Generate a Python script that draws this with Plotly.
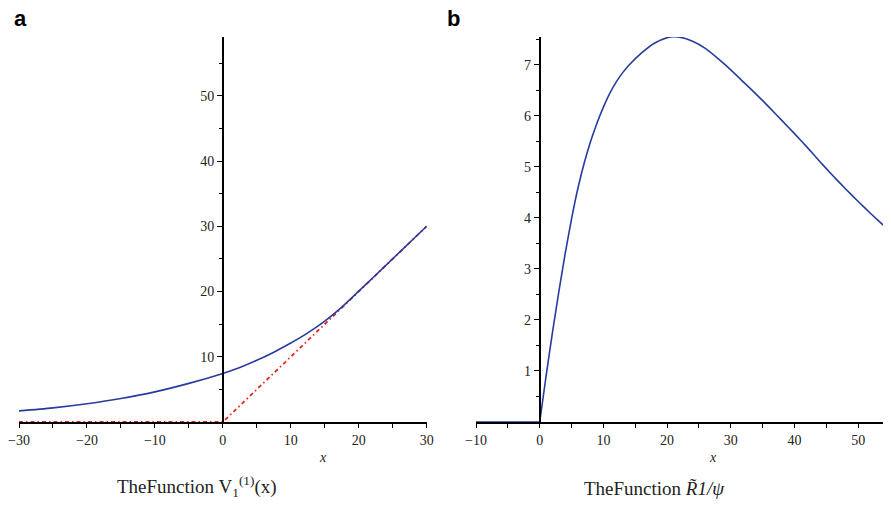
import plotly.graph_objects as go

# ---- data ----
v_x = [-30, -25, -20, -15, -10, -5, 0, 2.5, 5, 7.5, 10, 12.5, 15, 17.5, 20, 22.5, 25, 27.5, 30]
v_y = [1.70, 2.17, 2.80, 3.60, 4.62, 5.92, 7.45, 8.35, 9.45, 10.7, 12.1, 13.65, 15.45, 17.6,
       20.05, 22.53, 25.02, 27.51, 30.0]

asym_x = [-30, 0, 30]
asym_y = [0, 0, 30]

r_flat_x = [-10, 0]
r_flat_y = [0, 0]
r_x = [0, 1, 2, 3, 4, 5, 6, 7, 8, 9, 10, 11, 12, 13, 14, 16, 18, 20, 21, 22, 24, 26, 28,
       30, 32, 34, 36, 38, 40, 42, 44, 46, 48, 50, 52, 54, 55.2]
r_y = [0, 0.9, 1.75, 2.55, 3.3, 3.98, 4.58, 5.08, 5.5, 5.86, 6.17, 6.44, 6.66, 6.84, 6.99,
       7.23, 7.42, 7.53, 7.55, 7.54, 7.46, 7.32, 7.12, 6.9, 6.66, 6.42, 6.17, 5.91, 5.65, 5.38,
       5.1, 4.83, 4.57, 4.32, 4.08, 3.85, 3.72]

left_xticks = [-30, -20, -10, 0, 10, 20, 30]
left_yticks = [10, 20, 30, 40, 50]
right_xticks = [-10, 0, 10, 20, 30, 40, 50]
right_yticks = [1, 2, 3, 4, 5, 6, 7]

# page offset (browser body margin of 8px on every side)
OX, OY = 8, 8
W, H = 891 - 2 * OX, 507 - 2 * OY
PLOT_TOP, PLOT_BOTTOM = 37.0, 421.7
T = PLOT_TOP - OY
B = H - (PLOT_BOTTOM - OY)
PH = H - T - B

def px(x):
    return (x - OX) / W

def py(y):
    return (H - B - (y - OY)) / PH

BLUE = "rgb(40,60,160)"
RED = "rgb(230,35,30)"
SERIF = "Liberation Serif"

fig = go.Figure()
fig.add_trace(go.Scatter(x=asym_x, y=asym_y, mode="lines", xaxis="x", yaxis="y",
                         line=dict(color=RED, width=1.8, dash="4px,3px,1.5px,3px")))
fig.add_trace(go.Scatter(x=v_x, y=v_y, mode="lines", xaxis="x", yaxis="y",
                         line=dict(color=BLUE, width=1.6, shape="spline", smoothing=0.8)))
fig.add_trace(go.Scatter(x=r_flat_x, y=r_flat_y, mode="lines", xaxis="x2", yaxis="y2",
                         line=dict(color=BLUE, width=1.6)))
fig.add_trace(go.Scatter(x=r_x, y=r_y, mode="lines", xaxis="x2", yaxis="y2",
                         line=dict(color=BLUE, width=1.6, shape="spline", smoothing=0.5)))

axis_common = dict(showgrid=False, zeroline=False, showline=True, linecolor="black",
                   linewidth=1.6, ticks="outside", tickcolor="black", tickwidth=1.3,
                   automargin=False,
                   tickfont=dict(family=SERIF, size=14, color="#222"), fixedrange=True)

l_x0, l_x1 = 19.0, 426.7
r_x0, r_x1 = 476.0, 891.0 - OX
RX_SCALE = 6.37

fig.update_layout(
    width=W, height=H, showlegend=False,
    paper_bgcolor="white", plot_bgcolor="white",
    margin=dict(l=0, r=0, t=T, b=B, autoexpand=False),
    xaxis=dict(domain=[px(l_x0), px(l_x1)], range=[-30, 30], anchor="y",
               tickmode="array", tickvals=left_xticks, ticklen=4,
               minor=dict(tick0=0, dtick=5, ticks="outside", ticklen=4, tickcolor="black", tickwidth=1.3),
               **axis_common),
    yaxis=dict(domain=[0, 1], range=[0, PH / 6.52], anchor="free",
               position=px((l_x0 + l_x1) / 2),
               tickmode="array", tickvals=left_yticks, ticklen=5,
               minor=dict(tick0=0, dtick=5, ticks="outside", ticklen=3, tickcolor="black", tickwidth=1.3),
               **axis_common),
    xaxis2=dict(domain=[px(r_x0), px(r_x1)], range=[-10, -10 + (r_x1 - r_x0) / RX_SCALE], anchor="y2",
                tickmode="array", tickvals=right_xticks, ticklen=4,
                minor=dict(tick0=0, dtick=5, ticks="outside", ticklen=4, tickcolor="black", tickwidth=1.3),
                **axis_common),
    yaxis2=dict(domain=[0, 1], range=[0, PH / 51.0], anchor="free",
                position=px(r_x0 + 10 * RX_SCALE),
                tickmode="array", tickvals=right_yticks, ticklen=5,
                minor=dict(tick0=0, dtick=0.5, ticks="outside", ticklen=3, tickcolor="black", tickwidth=1.3),
                **axis_common),
)

ann = []
ann.append(dict(text="<b>a</b>", x=px(20), y=py(19), font=dict(family="Liberation Sans", size=22, color="black")))
ann.append(dict(text="<b>b</b>", x=px(453), y=py(19), font=dict(family="Liberation Sans", size=22, color="black")))
ann.append(dict(text="<i>x</i>", x=px(323), y=py(457), font=dict(family=SERIF, size=14, color="#222")))
ann.append(dict(text="<i>x</i>", x=px(713), y=py(457), font=dict(family=SERIF, size=14, color="#222")))
ann.append(dict(text="TheFunction V<sub>1</sub><sup>(1)</sup>(x)", x=px(197), y=py(486),
                font=dict(family=SERIF, size=19, color="#222")))
ann.append(dict(text="TheFunction <i>R\u0303</i><i>1/\u03c8</i>", x=px(654), y=py(488),
                font=dict(family=SERIF, size=19, color="#222")))
for a in ann:
    a.update(xref="paper", yref="paper", showarrow=False, xanchor="center", yanchor="middle")
fig.update_layout(annotations=ann)

fig.write_html("out.html")
